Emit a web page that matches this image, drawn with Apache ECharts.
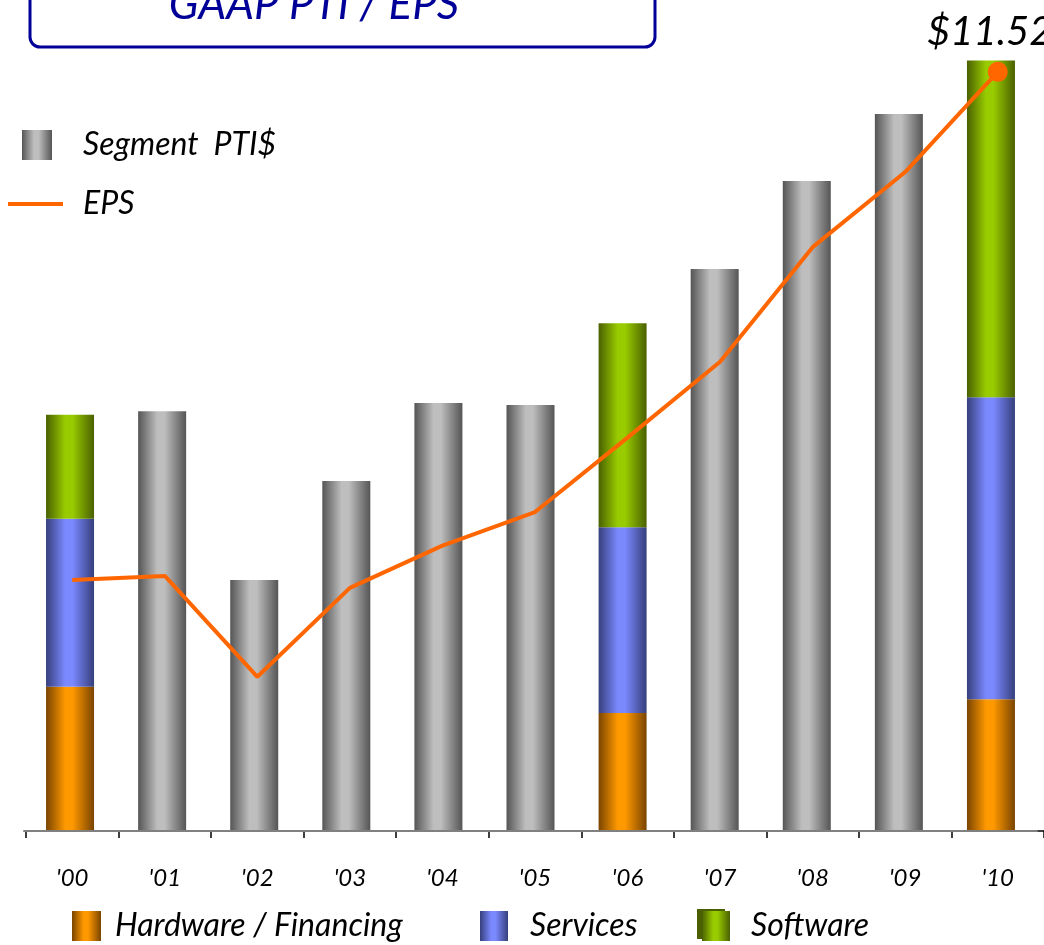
<!DOCTYPE html>
<html>
<head>
<meta charset="utf-8">
<script src="https://cdn.jsdelivr.net/npm/echarts@6/dist/echarts.min.js"></script>
<style>html,body{margin:0;padding:0;background:#fff;}#c{width:1044px;height:945px;}</style>
</head>
<body>
<div id="c"></div>
<script>
const categories = ["'00","'01","'02","'03","'04","'05","'06","'07","'08","'09","'10"];
const segmentPTI = [null, 10.89, 6.51, 9.08, 11.10, 11.05, null, 14.58, 16.86, 18.60, null];
const hardwareFinancing = [3.74, null, null, null, null, null, 3.06, null, null, null, 3.42];
const services = [4.36, null, null, null, null, null, 4.82, null, null, null, 7.83];
const software = [2.70, null, null, null, null, null, 5.29, null, null, null, 8.74];
const eps = [3.81, 3.87, 2.34, 3.69, 4.33, 4.84, 5.97, 7.12, 8.86, 10.00, 11.52];
const epsLabel = '$11.52';

const FONT = 'Lato';
function grad(dark, light) {
  return new echarts.graphic.LinearGradient(0, 0, 1, 0, [
    {offset: 0, color: dark},
    {offset: 0.4, color: light},
    {offset: 0.55, color: light},
    {offset: 1, color: dark}
  ]);
}
const grayG = grad('#555555', '#bebebe');
const orangeG = grad('#7a4400', '#ff9900');
const blueG = grad('#363f7c', '#7b89ff');
const greenG = grad('#4a6000', '#99cc00');

const chart = echarts.init(document.getElementById('c'), null, {renderer: 'canvas'});
function lt(pad) {
  return {fontSize: 32, fontStyle: 'italic', fontFamily: FONT, color: '#000', padding: [0, 0, 0, pad]};
}
const last = eps.length - 1;

const option = {
  animation: false,
  backgroundColor: '#fff',
  grid: [
    {left: 24, width: 1013, top: 60, height: 771},
    {left: 26, width: 1020, top: 60, height: 771}
  ],
  xAxis: [
    {type: 'category', gridIndex: 0, data: categories, z: 10,
     axisLine: {lineStyle: {color: '#808080', width: 2}}, axisTick: {show: false}, axisLabel: {show: false}},
    {type: 'category', gridIndex: 1, data: categories, offset: 7,
     axisLine: {lineStyle: {color: '#000', width: 1.5}},
     axisTick: {show: true, length: 7, lineStyle: {color: '#000', width: 1.5}},
     axisLabel: {margin: 28, fontSize: 24, fontStyle: 'italic', fontFamily: FONT, color: '#000'}}
  ],
  yAxis: [
    {type: 'value', gridIndex: 0, min: 0, max: 20, show: false},
    {type: 'value', gridIndex: 1, min: 0, max: 11.70, show: false}
  ],
  legend: [
    {data: ['Segment  PTI$'], left: 22, top: 129, padding: 0, itemWidth: 30, itemHeight: 30, icon: 'rect',
     textStyle: lt(26)},
    {data: ['EPS'], left: 8, top: 188, padding: 0, itemWidth: 55, itemHeight: 4, icon: 'rect',
     textStyle: lt(15)},
    {data: ['Hardware / Financing'], left: 72, top: 910, padding: 0, itemWidth: 29, itemHeight: 30, icon: 'rect',
     textStyle: lt(9)},
    {data: ['Services'], left: 480, top: 910, padding: 0, itemWidth: 28, itemHeight: 30, icon: 'rect',
     textStyle: lt(17)},
    {data: ['Software'], left: 702, top: 910, padding: 0, itemWidth: 28, itemHeight: 30, icon: 'rect',
     textStyle: lt(16)}
  ],
  graphic: [
    {type: 'rect', z: 10, shape: {x: 30, y: -25, width: 625, height: 72, r: 10},
     style: {fill: 'none', stroke: '#000099', lineWidth: 3}},
    {type: 'text', z: 10, x: 314, y: 5,
     style: {text: 'GAAP PTI / EPS', fill: '#000099', fontSize: 44, fontStyle: 'italic', fontFamily: FONT,
             align: 'center', verticalAlign: 'middle'}},
    {type: 'rect', z: 0, shape: {x: 697, y: 909, width: 28, height: 30},
     style: {fill: '#4a6000'}}
  ],
  series: [
    {name: 'Segment  PTI$', type: 'bar', stack: 'pti', barWidth: 48, xAxisIndex: 0, yAxisIndex: 0,
     data: segmentPTI, itemStyle: {color: grayG}},
    {name: 'Hardware / Financing', type: 'bar', stack: 'pti', barWidth: 48, xAxisIndex: 0, yAxisIndex: 0,
     data: hardwareFinancing, itemStyle: {color: orangeG}},
    {name: 'Services', type: 'bar', stack: 'pti', barWidth: 48, xAxisIndex: 0, yAxisIndex: 0,
     data: services, itemStyle: {color: blueG}},
    {name: 'Software', type: 'bar', stack: 'pti', barWidth: 48, xAxisIndex: 0, yAxisIndex: 0,
     data: software, itemStyle: {color: greenG}},
    {name: 'EPS', type: 'line', xAxisIndex: 1, yAxisIndex: 1, z: 5,
     lineStyle: {color: '#ff6600', width: 4}, itemStyle: {color: '#ff6600'},
     symbol: 'circle', showSymbol: true,
     symbolSize: function (v, p) { return p.dataIndex === last ? 20 : 0; },
     data: eps.map(function (v, i) {
       if (i !== last) return v;
       return {value: v, label: {show: true, position: 'top', distance: 10, offset: [-8, 0],
               formatter: epsLabel, fontSize: 40, fontStyle: 'italic', fontFamily: FONT, color: '#000'}};
     })}
  ]
};
chart.setOption(option);
</script>
</body>
</html>
